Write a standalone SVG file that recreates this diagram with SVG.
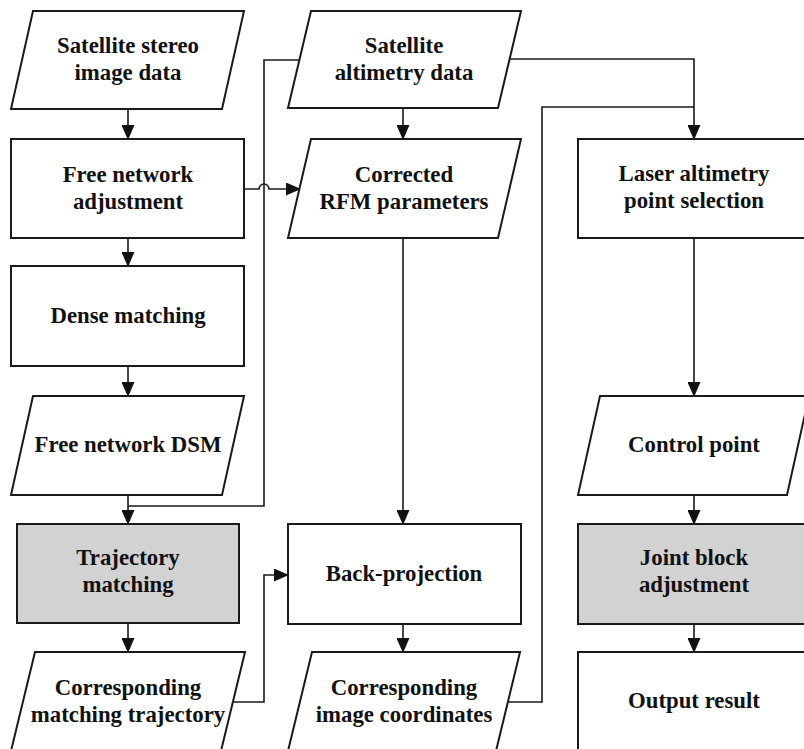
<svg xmlns="http://www.w3.org/2000/svg" width="804" height="749" viewBox="0 0 804 749">
<style>
.box{fill:#fff;stroke:#1a1a1a;stroke-width:2}
.gray{fill:#d2d2d2;stroke:#1a1a1a;stroke-width:2}
.conn{fill:none;stroke:#1a1a1a;stroke-width:1.6}
text{font-family:"Liberation Serif","Times New Roman",serif;font-weight:bold;font-size:22.8px;fill:#111;text-anchor:middle}
</style>
<defs>
<marker id="arr" markerUnits="userSpaceOnUse" markerWidth="15" markerHeight="13" refX="14" refY="6.5" orient="auto">
<path d="M0,0 L15,6.5 L0,13 Z" fill="#111"/>
</marker>
</defs>
<rect width="804" height="749" fill="#fff"/>
<g id="connectors">
<path class="conn" d="M128,109 V139" marker-end="url(#arr)"/>
<path class="conn" d="M128,238 V266" marker-end="url(#arr)"/>
<path class="conn" d="M128,366 V396" marker-end="url(#arr)"/>
<path class="conn" d="M128,495 V524" marker-end="url(#arr)"/>
<path class="conn" d="M300,60 H264 V506 H128"/>
<path class="conn" d="M244,189 H259 A5,5 0 0 1 269,189 H300" marker-end="url(#arr)"/>
<path class="conn" d="M403,108 V139" marker-end="url(#arr)"/>
<path class="conn" d="M403,238 V524" marker-end="url(#arr)"/>
<path class="conn" d="M128,623 V652" marker-end="url(#arr)"/>
<path class="conn" d="M233,702 H264 V575 H288" marker-end="url(#arr)"/>
<path class="conn" d="M403,624 V652" marker-end="url(#arr)"/>
<path class="conn" d="M508,702 H542 V107 H694"/>
<path class="conn" d="M510,59 H694 V139" marker-end="url(#arr)"/>
<path class="conn" d="M694,238 V396" marker-end="url(#arr)"/>
<path class="conn" d="M694,495 V524" marker-end="url(#arr)"/>
<path class="conn" d="M694,624 V652" marker-end="url(#arr)"/>
</g>
<g id="stereo">
<polygon class="box" points="33,11 244,11 222,109 11,109"/>
<text x="128" y="53">Satellite stereo</text>
<text x="128" y="80">image data</text>
</g>
<g id="freeadj">
<rect class="box" x="11" y="139" width="233" height="99"/>
<text x="128" y="182">Free network</text>
<text x="128" y="209">adjustment</text>
</g>
<g id="dense">
<rect class="box" x="11" y="266" width="233" height="100"/>
<text x="128" y="323">Dense matching</text>
</g>
<g id="dsm">
<polygon class="box" points="33,396 244,396 222,495 11,495"/>
<text x="128" y="452">Free network DSM</text>
</g>
<g id="trajmatch">
<rect class="gray" x="17" y="524" width="222" height="99"/>
<text x="128" y="565">Trajectory</text>
<text x="128" y="592">matching</text>
</g>
<g id="corrtraj">
<polygon class="box" points="35,652 245,652 221,751 11,751"/>
<text x="128" y="695">Corresponding</text>
<text x="128" y="722">matching trajectory</text>
</g>
<g id="altimetry">
<polygon class="box" points="311,11 521,11 498,108 288,108"/>
<text x="404" y="53">Satellite</text>
<text x="404" y="80">altimetry data</text>
</g>
<g id="rfm">
<polygon class="box" points="311,139 521,139 498,238 288,238"/>
<text x="404" y="182">Corrected</text>
<text x="404" y="209">RFM parameters</text>
</g>
<g id="backproj">
<rect class="box" x="288" y="524" width="233" height="100"/>
<text x="404" y="581">Back-projection</text>
</g>
<g id="imgcoord">
<polygon class="box" points="312,652 520,652 496,751 288,751"/>
<text x="404" y="695">Corresponding</text>
<text x="404" y="722">image coordinates</text>
</g>
<g id="laser">
<rect class="box" x="578" y="139" width="240" height="99"/>
<text x="694" y="181">Laser altimetry</text>
<text x="694" y="208">point selection</text>
</g>
<g id="control">
<polygon class="box" points="600,396 809,396 787,495 578,495"/>
<text x="694" y="452">Control point</text>
</g>
<g id="joint">
<rect class="gray" x="578" y="524" width="240" height="100"/>
<text x="694" y="565">Joint block</text>
<text x="694" y="592">adjustment</text>
</g>
<g id="output">
<rect class="box" x="578" y="652" width="240" height="110"/>
<text x="694" y="708">Output result</text>
</g>
</svg>
